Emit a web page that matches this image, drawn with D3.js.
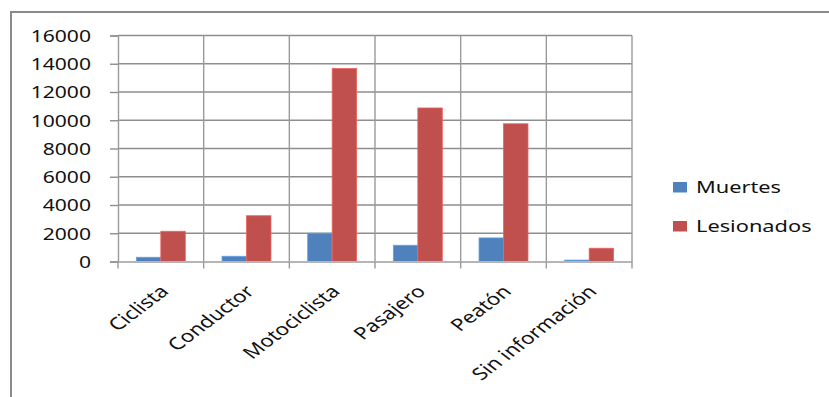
<!DOCTYPE html>
<html>
<head>
<meta charset="utf-8">
<script src="https://cdn.jsdelivr.net/npm/d3@7"></script>
<style>
  html, body { margin: 0; padding: 0; background: #fff; }
  svg { display: block; }
  text { font-family: "Noto Sans", "Open Sans", sans-serif; fill: #111; }
</style>
</head>
<body>
<svg id="chart" width="829" height="397"></svg>
<script>
// Víctimas por tipo de usuario de la vía
const categories = ["Ciclista", "Conductor", "Motociclista", "Pasajero", "Peatón", "Sin información"];
const muertes    = [300, 370, 2000, 1150, 1670, 100];
const lesionados = [2140, 3240, 13670, 10870, 9750, 940];
const seriesNames = ["Muertes", "Lesionados"];
const yTicks = [0, 2000, 4000, 6000, 8000, 10000, 12000, 14000, 16000];

const colors = { "Muertes": "#4F81BD", "Lesionados": "#C0504D" };
const stretch = 1.32; // horizontal stretch applied to the lettering

const svg = d3.select("#chart");
const plot = { left: 118, right: 632, top: 35.5, bottom: 261.5 };

// outer frame
svg.append("rect")
  .attr("x", 11).attr("y", 12)
  .attr("width", 840).attr("height", 400)
  .attr("fill", "#fff").attr("stroke", "#8a8a8a").attr("stroke-width", 2);

const x = d3.scaleBand().domain(categories).range([plot.left, plot.right]).padding(0);
const y = d3.scaleLinear().domain([0, 16000]).range([plot.bottom, plot.top]);

// bars fill 2 of 3.5 units of each band (gap width 150%)
const unit = x.bandwidth() / 3.5;
const inner = d3.scaleBand().domain(seriesNames).range([0.75 * unit, 2.75 * unit]).padding(0);

// horizontal gridlines
svg.append("g").selectAll("line").data(yTicks.filter(d => d > 0)).join("line")
  .attr("x1", plot.left).attr("x2", plot.right)
  .attr("y1", d => y(d)).attr("y2", d => y(d))
  .attr("stroke", "#8e8e8e").attr("stroke-width", 1.4);

// vertical gridlines between categories
const bounds = categories.map(c => x(c)).concat([plot.right]);
svg.append("g").selectAll("line").data(bounds.slice(1)).join("line")
  .attr("x1", d => d).attr("x2", d => d)
  .attr("y1", plot.top).attr("y2", plot.bottom)
  .attr("stroke", "#9a9a9a").attr("stroke-width", 1.4);

// y axis with outward ticks
const yAxis = d3.axisLeft(y).tickValues(yTicks).tickSize(8).tickPadding(18).tickFormat(d3.format("d"));
const yg = svg.append("g").attr("transform", `translate(${plot.left},0)`).call(yAxis);
yg.select(".domain").attr("stroke", "#9a9a9a").attr("stroke-width", 1.4);
yg.selectAll(".tick line").attr("stroke", "#8e8e8e").attr("stroke-width", 1.4);
yg.selectAll(".tick text")
  .attr("font-size", 16)
  .attr("fill", "#111")
  .attr("dy", "0.36em")
  .attr("x", 0)
  .attr("transform", `translate(-27,0) scale(${stretch},1)`)
  .style("font-family", '"Noto Sans", sans-serif');

// bars
const rows = categories.map((c, i) => ({ cat: c, values: [
  { key: "Muertes", value: muertes[i] },
  { key: "Lesionados", value: lesionados[i] }
]}));
const groups = svg.append("g").selectAll("g").data(rows).join("g")
  .attr("transform", d => `translate(${x(d.cat)},0)`);
groups.selectAll("rect").data(d => d.values).join("rect")
  .attr("x", d => inner(d.key))
  .attr("width", inner.bandwidth())
  .attr("y", d => y(d.value))
  .attr("height", d => y(0) - y(d.value))
  .attr("fill", d => colors[d.key])
  .attr("stroke", d => d3.color(colors[d.key]).brighter(0.6))
  .attr("stroke-width", 0.8);

// category axis
const xAxis = d3.axisBottom(x).tickSize(0).tickFormat("");
const xg = svg.append("g").attr("transform", `translate(0,${plot.bottom})`).call(xAxis);
xg.select(".domain").attr("stroke", "#b5b5b5").attr("stroke-width", 2);
svg.append("g").selectAll("line").data(bounds).join("line")
  .attr("x1", d => d).attr("x2", d => d)
  .attr("y1", plot.bottom).attr("y2", plot.bottom + 7)
  .attr("stroke", "#9a9a9a").attr("stroke-width", 1.4);

// rotated category labels
svg.append("g").selectAll("text").data(categories).join("text")
  .attr("text-anchor", "end")
  .attr("font-size", 17)
  .attr("transform", d => `translate(${x(d) + x.bandwidth() / 2 + 9},${plot.bottom + 31}) scale(${stretch},1) rotate(-45)`)
  .text(d => d);

// legend
const legend = svg.append("g").selectAll("g").data(seriesNames).join("g")
  .attr("transform", (d, i) => `translate(673,${182 + i * 39})`);
legend.append("rect")
  .attr("width", 14).attr("height", 10.5)
  .attr("fill", d => colors[d]);
legend.append("text")
  .attr("font-size", 16.5)
  .attr("transform", `translate(23,11) scale(${stretch},1)`)
  .text(d => d);
</script>
</body>
</html>
